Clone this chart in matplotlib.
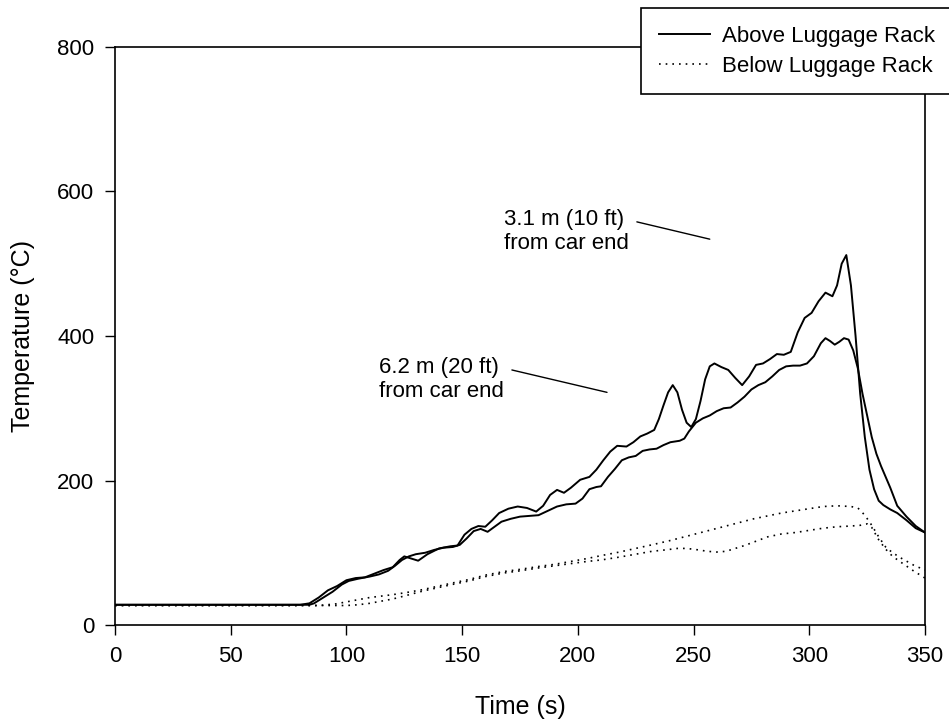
import matplotlib as mpl
import matplotlib.pyplot as plt

mpl.rcParams['font.family'] = ['Liberation Sans', 'DejaVu Sans']

# Above luggage rack, 3.1 m (10 ft) from car end
t_a = [0, 80, 84, 88, 92, 96, 100, 104, 108, 112, 116, 120, 123, 125, 128, 131, 135, 140,
       145, 148, 151, 154, 157, 160, 163, 166, 170, 174, 178, 182, 185, 188, 191, 194, 197,
       201, 205, 208, 211, 214, 217, 221, 224, 227, 230, 233, 235, 237, 239, 241, 243, 245,
       247, 249, 251, 253, 255, 257, 259, 262, 265, 268, 271, 274, 277, 280, 283, 286, 289,
       292, 295, 298, 301, 304, 307, 310, 312, 314, 316, 318, 320, 322, 324, 326, 328, 330,
       332, 335, 338, 342, 346, 350]
temp_a = [28, 28, 30, 38, 48, 54, 62, 65, 66, 71, 76, 80, 90, 95, 92, 89, 98, 106,
          109, 110, 125, 133, 137, 136, 145, 155, 161, 164, 162, 157, 165, 180, 187, 183, 190,
          201, 205, 215, 228, 240, 248, 247, 253, 261, 265, 270, 285, 304, 322, 332, 322, 298,
          280, 274, 285, 310, 340, 358, 362, 357, 353, 342, 332, 344, 360, 362, 368, 375, 374,
          378, 405, 425, 432, 448, 460, 455, 470, 500, 512, 470, 400, 320, 260, 215, 188, 172,
          166, 160, 155, 145, 134, 128]

# Above luggage rack, 6.2 m (20 ft) from car end
t_b = [0, 84, 86, 90, 94, 98, 101, 105, 110, 114, 118, 121, 124, 127, 130, 134, 138, 142,
       146, 149, 152, 155, 158, 161, 164, 167, 171, 175, 179, 183, 187, 191, 195, 199, 202,
       205, 208, 210, 213, 216, 219, 222, 225, 228, 231, 234, 237, 240, 242, 244, 246, 248,
       251, 254, 257, 260, 263, 266, 269, 272, 275, 278, 281, 284, 287, 290, 293, 296, 299,
       302, 305, 307, 309, 311, 313, 315, 317, 319, 321, 323, 325, 327, 329, 331, 333, 335,
       338, 342, 346, 350]
temp_b = [28, 28, 30, 38, 46, 56, 61, 64, 67, 70, 75, 82, 90, 95, 98, 100, 104, 107,
          108, 111, 120, 130, 133, 129, 136, 143, 147, 150, 151, 152, 158, 164, 167, 168, 175,
          188, 191, 192, 205, 216, 228, 232, 234, 241, 243, 244, 249, 253, 254, 255, 258, 268,
          280, 286, 290, 296, 300, 301, 308, 316, 326, 332, 336, 344, 353, 358, 359, 359, 362,
          372, 390, 397, 393, 388, 392, 397, 395, 380, 355, 320, 290, 260, 237, 220, 205, 190,
          165, 150, 137, 128]

# Below luggage rack, 3.1 m (10 ft) from car end
t_c = [0, 88, 95, 100, 105, 110, 115, 120, 126, 133, 140, 147, 153, 160, 168, 175, 183,
       190, 197, 204, 210, 218, 225, 232, 240, 246, 252, 258, 264, 270, 276, 282, 288, 294,
       300, 306, 312, 318, 321, 324, 327, 330, 333, 336, 340, 345, 350]
temp_c = [27, 27, 29, 32, 35, 38, 40, 42, 45, 49, 54, 59, 63, 69, 74, 77, 81,
          84, 88, 92, 96, 101, 106, 111, 117, 122, 127, 132, 137, 142, 147, 151, 155, 158,
          161, 164, 165, 164, 162, 152, 138, 122, 108, 100, 92, 83, 76]

# Below luggage rack, 6.2 m (20 ft) from car end
t_d = [0, 92, 100, 105, 110, 115, 120, 126, 133, 140, 147, 153, 160, 168, 175, 183, 190,
       197, 204, 210, 218, 225, 232, 238, 243, 247, 252, 256, 260, 264, 268, 272, 277, 282,
       288, 294, 300, 306, 312, 318, 322, 325, 327, 330, 333, 336, 340, 345, 350]
temp_d = [27, 27, 27, 28, 30, 33, 36, 41, 47, 52, 57, 61, 67, 72, 75, 79, 82,
          85, 88, 90, 94, 98, 102, 104, 106, 106, 104, 102, 101, 102, 106, 110, 116, 122,
          126, 128, 131, 134, 136, 137, 138, 140, 135, 118, 105, 95, 86, 75, 65]

fig = plt.figure(figsize=(9.49, 7.26), dpi=100)
ax = fig.add_axes([0.1212, 0.1391, 0.8535, 0.7962])

ax.plot(t_a, temp_a, color='black', lw=1.4, label='Above Luggage Rack')
ax.plot(t_b, temp_b, color='black', lw=1.4)
ax.plot(t_c, temp_c, color='black', lw=1.2, ls=(0, (1, 3)), label='Below Luggage Rack')
ax.plot(t_d, temp_d, color='black', lw=1.2, ls=(0, (1, 3)))

ax.set_xlim(0, 350)
ax.set_ylim(0, 800)
ax.set_xticks(range(0, 351, 50))
ax.set_yticks(range(0, 801, 200))
ax.tick_params(direction='out', length=7, width=1, labelsize=16, pad=8)
ax.set_xlabel('Time (s)', fontsize=18, labelpad=20)
ax.set_ylabel('Temperature (°C)', fontsize=18, labelpad=16)
for s in ax.spines.values():
    s.set_linewidth(1.2)

ax.annotate('3.1 m (10 ft)\nfrom car end', xy=(257, 534), xytext=(168, 545),
            fontsize=16, va='center', ha='left',
            arrowprops=dict(arrowstyle='-', color='black', lw=1,
                            shrinkA=4, shrinkB=0, relpos=(1.0, 0.75)))
ax.annotate('6.2 m (20 ft)\nfrom car end', xy=(212.6, 322), xytext=(114, 340),
            fontsize=16, va='center', ha='left',
            arrowprops=dict(arrowstyle='-', color='black', lw=1,
                            shrinkA=4, shrinkB=0, relpos=(1.0, 0.75)))

leg = fig.legend(loc='upper left', bbox_to_anchor=(0.6754, 0.989), fontsize=16,
                 frameon=True, fancybox=False, edgecolor='black', framealpha=1,
                 handlelength=2.3, handletextpad=0.55, borderpad=0.8, labelspacing=0.4,
                 borderaxespad=0)
leg.get_frame().set_linewidth(1.2)

plt.savefig('out.png', dpi=100)
